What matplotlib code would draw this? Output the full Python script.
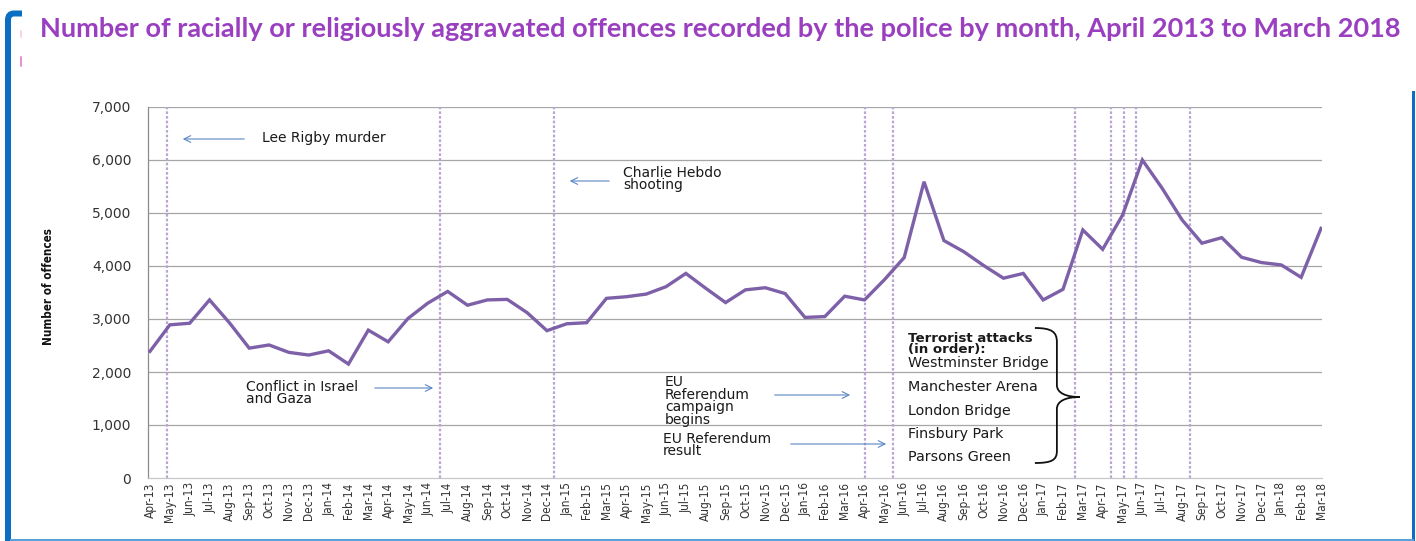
import matplotlib
matplotlib.use("Agg")
import matplotlib.pyplot as plt
import numpy as np
import pandas as pd
from matplotlib.path import Path
from matplotlib.patches import PathPatch
from matplotlib.transforms import Affine2D
from matplotlib.lines import Line2D

# ---------------- data ----------------
month_labels = list(pd.date_range("2013-04-01", periods=60, freq="MS").strftime("%b-%y"))
offences = [2390, 2890, 2920, 3360, 2930, 2450, 2510, 2370, 2320, 2400, 2150, 2790,
            2570, 3010, 3300, 3520, 3260, 3360, 3370, 3120, 2780, 2910, 2930, 3390,
            3420, 3470, 3610, 3860, 3580, 3310, 3550, 3590, 3480, 3030, 3045, 3430,
            3360, 3740, 4160, 5590, 4480, 4270, 4010, 3770, 3860, 3360, 3560, 4680,
            4315, 4960, 6000, 5465, 4870, 4430, 4535, 4165, 4065, 4020, 3786, 4710]
event_names = ["Lee Rigby murder", "Conflict in Israel and Gaza", "Charlie Hebdo shooting",
               "EU Referendum campaign begins", "EU Referendum result",
               "Westminster Bridge", "Manchester Arena", "London Bridge",
               "Finsbury Park", "Parsons Green"]
event_pos = [0.88, 14.63, 20.34, 36.05, 37.45, 46.6, 48.41, 49.05, 49.66, 52.42]
attack_names = ["Westminster Bridge", "Manchester Arena", "London Bridge",
                "Finsbury Park", "Parsons Green"]
y_ticks = [0, 1000, 2000, 3000, 4000, 5000, 6000, 7000]
title = ("Number of racially or religiously aggravated offences recorded by the police "
         "by month, April 2013 to March 2018")

W, H = 1416, 541
fig = plt.figure(figsize=(W / 100, H / 100), dpi=100)
fig.patch.set_facecolor("white")

ax_l, ax_r, ax_t, ax_b = 148, 1322, 107, 478
ax = fig.add_axes([ax_l / W, 1 - ax_b / H, (ax_r - ax_l) / W, (ax_b - ax_t) / H])

x = np.arange(len(offences))
ax.set_xlim(-0.1, 59.05)
ax.set_ylim(0, 7000)

# grid
for v in y_ticks[1:]:
    ax.axhline(v, color="#a6a6a6", lw=0.9, zorder=1)

# event lines
for p in event_pos:
    ax.axvline(p, color="#b9a6d6", lw=1.6, ls=(0, (1.2, 0.9)), zorder=2)

ax.plot(x, offences, color="#7d60a8", lw=2.4, zorder=3, solid_joinstyle="miter")

for s in ["top", "right"]:
    ax.spines[s].set_visible(False)
ax.spines["left"].set_color("#8c8c8c")
ax.spines["bottom"].set_color("#c8c8c8")
ax.spines["left"].set_linewidth(0.9)
ax.spines["bottom"].set_linewidth(0.9)

ax.set_yticks(y_ticks)
ax.set_yticklabels([f"{v:,}" for v in y_ticks], fontsize=10, color="#333333",
                   family="DejaVu Sans")
ax.tick_params(axis="y", length=0, pad=12)
ax.set_xticks(x)
ax.set_xticklabels(month_labels, rotation=90, fontsize=8.6, color="#333333",
                   family="DejaVu Sans", fontstretch="condensed")
ax.tick_params(axis="x", length=0, pad=3)

ax.set_ylabel("Number of offences", fontsize=8.4, fontweight="bold",
              family="DejaVu Sans", fontstretch="condensed", color="#111111")
ax.yaxis.set_label_coords((55 - ax_l) / (ax_r - ax_l), (ax_b - 287) / (ax_b - ax_t))


# helpers to convert reference pixel positions to data
def dx(px):
    return (px - 150) / 19.85


def dy(py):
    return (ax_b - py) * 1000 / 53


afont = dict(fontsize=10, family="DejaVu Sans", color="#1a1a1a")
arrow_kw = dict(arrowstyle="->", color="#5b87c5", lw=0.8, mutation_scale=12)


def note(text, tx, ty, ax0, ax1, ay):
    ax.text(dx(tx), dy(ty), text, ha="left", va="center", linespacing=0.85, zorder=5, **afont)
    ax.annotate("", xy=(dx(ax1), dy(ay)), xytext=(dx(ax0), dy(ay)),
                arrowprops=arrow_kw, zorder=5)


note(event_names[0], 262, 138, 247, 180, 139)
note("Conflict in Israel\nand Gaza", 246, 393, 372, 436, 388)
note("Charlie Hebdo\nshooting", 623, 179, 612, 567, 181)
note("EU\nReferendum\ncampaign\nbegins", 665, 401, 772, 853, 395)
note("EU Referendum\nresult", 663, 445, 788, 889, 444)

tfont = dict(afont, fontsize=10.3)
ax.text(dx(908), dy(344), "Terrorist attacks\n(in order):", ha="left", va="center",
        fontweight="bold", linespacing=0.78, zorder=5, **dict(afont, fontsize=9.6))
for name, py in zip(attack_names, [363, 387, 411, 434, 457]):
    ax.text(dx(908), dy(py), name, ha="left", va="center", zorder=5, **tfont)

# curly brace
bx, tipx, endx = 1057, 1080, 1035
verts_px = [(endx, 328), (1052, 328), (bx, 332), (bx, 342),
            (bx, 385),
            (bx, 393), (1066, 397), (tipx, 397),
            (1066, 397), (bx, 401), (bx, 409),
            (bx, 451),
            (bx, 460), (1052, 463), (endx, 463)]
codes = [Path.MOVETO, Path.CURVE4, Path.CURVE4, Path.CURVE4,
         Path.LINETO,
         Path.CURVE4, Path.CURVE4, Path.CURVE4,
         Path.CURVE4, Path.CURVE4, Path.CURVE4,
         Path.LINETO,
         Path.CURVE4, Path.CURVE4, Path.CURVE4]
brace = Path([(dx(a), dy(b)) for a, b in verts_px], codes)
ax.add_patch(PathPatch(brace, fill=False, edgecolor="#111111", lw=1.3, zorder=5,
                       clip_on=False))

# title
t = fig.text(40 / W, 1 - 37 / H, title, ha="left", va="baseline", fontsize=18,
             fontweight="bold", family=["Lato", "DejaVu Sans"], color="#9a3fc0")
fig.canvas.draw()
wpx = t.get_window_extent().width
t.set_fontsize(18 * 1368 / wpx)

# frame decorations in reference pixel coords (origin top-left)
pix = Affine2D().scale(1 / W, -1 / H).translate(0, 1) + fig.transFigure
left_bar = Path([(22, 13.5), (14, 13.5), (8, 13.5), (8, 20), (8, 545)],
                [Path.MOVETO, Path.LINETO, Path.CURVE3, Path.CURVE3, Path.LINETO])
fig.patches.append(PathPatch(left_bar, fill=False, edgecolor="#0a6fc2", lw=6 * 0.72,
                             transform=pix, capstyle="butt"))
fig.lines.append(Line2D([1412.5, 1412.5], [92, 545], color="#0a6fc2", lw=3 * 0.72,
                        transform=pix))
fig.lines.append(Line2D([11, 1413], [539.5, 539.5], color="#5aa0dc", lw=2 * 0.72,
                        transform=pix))
fig.lines.append(Line2D([20.5, 20.5], [57, 66], color="#e070c0", lw=1.5 * 0.72,
                        transform=pix))
fig.lines.append(Line2D([20.5, 20.5], [31, 37], color="#f4c8d0", lw=1.5 * 0.72,
                        transform=pix))

fig.savefig("out.png", dpi=100, facecolor="white")
